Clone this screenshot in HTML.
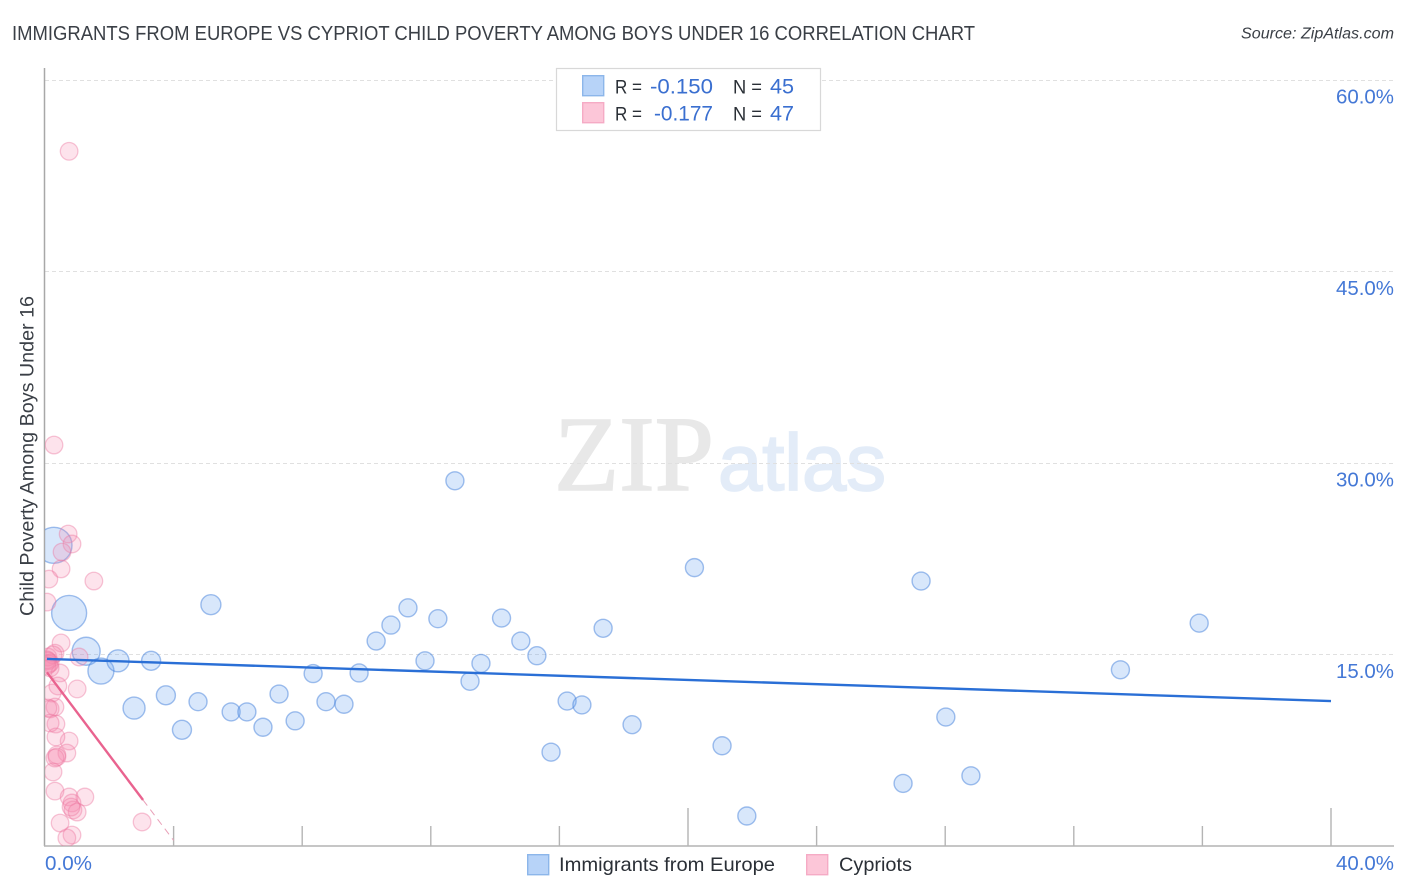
<!DOCTYPE html>
<html lang="en">
<head>
<meta charset="utf-8">
<title>Immigrants from Europe vs Cypriot Child Poverty Chart</title>
<style>
html,body{margin:0;padding:0;background:#fff;width:1406px;height:892px;overflow:hidden}
svg{display:block}
text{font-family:"Liberation Sans",sans-serif}
</style>
</head>
<body>
<svg id="chart" xmlns="http://www.w3.org/2000/svg" width="1406" height="892" viewBox="0 0 1406 892">
  <defs>
    <clipPath id="plot-clip"><rect x="45" y="60" width="1349" height="786"/></clipPath>
  </defs>
  <rect x="0" y="0" width="1406" height="892" fill="#ffffff"/>
  <text x="12" y="40" font-size="20" fill="#3a3f46" textLength="963" lengthAdjust="spacingAndGlyphs">IMMIGRANTS FROM EUROPE VS CYPRIOT CHILD POVERTY AMONG BOYS UNDER 16 CORRELATION CHART</text>
  <text x="1241" y="38.500" font-size="15.500" font-style="italic" fill="#3a3f46" textLength="153" lengthAdjust="spacingAndGlyphs">Source: ZipAtlas.com</text>

  <g>
    <text x="554" y="490" font-size="107" fill="#e8e8e8" stroke="#e8e8e8" stroke-width="1.500" textLength="160" lengthAdjust="spacingAndGlyphs" style="font-family:'Liberation Serif',serif">ZIP</text>
    <text x="718" y="490" font-size="80" fill="#e3ecf8" stroke="#e3ecf8" stroke-width="1.800" textLength="168" lengthAdjust="spacingAndGlyphs">atlas</text>
  </g>

  <g id="grid"></g>
  <g id="axes">
    <line x1="44.500" y1="68" x2="44.500" y2="846" stroke="#a8a8a8" stroke-width="1.500"/>
    <line x1="44" y1="846" x2="1394" y2="846" stroke="#b4b4b4" stroke-width="1.500"/>
  </g>
  <g id="x-ticks"></g>
  <g id="y-labels"></g>
  <g clip-path="url(#plot-clip)">
    <g id="blue-points"></g>
    <g id="pink-points"></g>
    <g id="trends"></g>
  </g>

  <text transform="translate(33.500,456) rotate(-90)" text-anchor="middle" font-size="19" fill="#3a3f46" textLength="320" lengthAdjust="spacingAndGlyphs">Child Poverty Among Boys Under 16</text>
  <text x="45" y="870" font-size="20" fill="#4478d6" textLength="47" lengthAdjust="spacingAndGlyphs">0.0%</text>
  <text x="1336" y="870" font-size="20" fill="#4478d6" textLength="58" lengthAdjust="spacingAndGlyphs">40.0%</text>

  <g>
    <rect x="556.500" y="68.500" width="264" height="62" fill="#ffffff" stroke="#d8d8d8" stroke-width="1.200"/>
    <rect x="582.700" y="75.700" width="21" height="20" fill="#b7d3f8" stroke="#8cb6ea" stroke-width="1.400"/>
    <rect x="582.700" y="102.700" width="21" height="20" fill="#fcc6d8" stroke="#f5abc5" stroke-width="1.400"/>
    <text x="615" y="93.500" font-size="19" fill="#2a2f36" textLength="27" lengthAdjust="spacingAndGlyphs">R =</text>
    <text x="650" y="93.500" font-size="21" fill="#3a6fd0" textLength="63" lengthAdjust="spacingAndGlyphs">-0.150</text>
    <text x="733" y="93.500" font-size="19" fill="#2a2f36" textLength="29" lengthAdjust="spacingAndGlyphs">N =</text>
    <text x="770" y="93.500" font-size="21" fill="#3a6fd0" textLength="24" lengthAdjust="spacingAndGlyphs">45</text>
    <text x="615" y="120.500" font-size="19" fill="#2a2f36" textLength="27" lengthAdjust="spacingAndGlyphs">R =</text>
    <text x="654" y="120.500" font-size="21" fill="#3a6fd0" textLength="59" lengthAdjust="spacingAndGlyphs">-0.177</text>
    <text x="733" y="120.500" font-size="19" fill="#2a2f36" textLength="29" lengthAdjust="spacingAndGlyphs">N =</text>
    <text x="770" y="120.500" font-size="21" fill="#3a6fd0" textLength="24" lengthAdjust="spacingAndGlyphs">47</text>
  </g>

  <g>
    <rect x="527.700" y="854.700" width="21" height="20" fill="#b7d3f8" stroke="#8cb6ea" stroke-width="1.400"/>
    <text x="559" y="871" font-size="19.500" fill="#2a2f36" textLength="216" lengthAdjust="spacingAndGlyphs">Immigrants from Europe</text>
    <rect x="806.700" y="854.700" width="21" height="20" fill="#fcc6d8" stroke="#f5abc5" stroke-width="1.400"/>
    <text x="839" y="871" font-size="19.500" fill="#2a2f36" textLength="73" lengthAdjust="spacingAndGlyphs">Cypriots</text>
  </g>
</svg>
<script>
const yTickValues = [15, 30, 45, 60];
const yTickLabels = ['15.0%', '30.0%', '45.0%', '60.0%'];
const xTickValues = [4, 8, 12, 16, 20, 24, 28, 32, 36, 40];
const xMajorTicks = [20, 40];

const blueX = [12.75, 20.2, 27.25, 35.9, 33.45, 0.28, 0.75, 1.28, 1.74, 2.27, 3.3, 2.77, 3.76, 4.76, 4.26, 5.16, 5.79, 6.28, 6.78, 7.28, 7.78, 8.34, 8.74, 9.3, 9.77, 10.3, 10.76, 11.29, 11.82, 12.22, 13.22, 13.56, 14.2, 14.8, 15.3, 15.74, 16.24, 16.7, 17.36, 18.26, 21.06, 21.83, 26.69, 28.02, 28.8];
const blueY = [28.6, 21.8, 20.75, 17.45, 13.8, 23.55, 18.25, 15.25, 13.7, 14.5, 14.5, 10.8, 11.8, 11.3, 9.1, 18.9, 10.5, 10.5, 9.3, 11.9, 9.8, 13.5, 11.3, 11.1, 13.55, 16.05, 17.3, 18.65, 14.5, 17.8, 12.9, 14.3, 17.85, 16.05, 14.9, 7.35, 11.35, 11.05, 17.05, 9.5, 7.85, 2.35, 4.9, 10.1, 5.5];
const blueSize = [9, 9, 9, 9, 9, 18, 17.5, 14, 13, 11, 9.5, 11, 9.5, 9, 9.5, 10, 9, 9, 9, 9, 9, 9, 9, 9, 9, 9, 9, 9, 9, 9, 9, 9, 9, 9, 9, 9, 9, 9, 9, 9, 9, 9, 9, 9, 9];

const pinkX = [0.75, 0.28, 0.72, 0.84, 0.5, 0.53, 1.52, 0.12, 0.06, 0.5, 0.31, 0.09, 1.06, 0.25, 0.09, 0.16, 0.12, 0.47, 1.0, 0.4, 0.22, 0.31, 0.16, 0.09, 0.34, 0.16, 0.75, 0.34, 0.68, 0.37, 0.31, 0.37, 0.25, 0.31, 0.75, 1.24, 0.84, 0.87, 1.0, 0.81, 0.47, 3.02, 0.84, 0.68, 0.06, 0.06, 0.16];
const pinkY = [54.4, 31.4, 24.43, 23.65, 21.7, 23.02, 20.75, 20.9, 19.1, 15.9, 15.1, 14.8, 14.8, 14.96, 14.49, 14.33, 14.25, 13.55, 12.3, 12.53, 11.98, 10.88, 10.73, 10.8, 9.55, 9.63, 8.22, 8.54, 7.28, 7.13, 6.89, 6.97, 5.8, 4.3, 3.84, 3.84, 3.37, 2.82, 2.66, 3.05, 1.8, 1.88, 0.86, 0.63, 14.1, 14.57, 13.94];
const pinkSize = 8.8;

const blueTrendX = [0.06, 40];
const blueTrendY = [14.65, 11.35];
const pinkTrendX = [0.06, 3.05];
const pinkTrendY = [13.6, 3.6];
const pinkDashX = [3.05, 4];
const pinkDashY = [3.6, 0.44];

const NS = 'http://www.w3.org/2000/svg';
function xPos(v) { return 45 + v * 32.15; }
function yPos(v) { return 846 - v * 12.77; }
function make(tag, parentId, attrs) {
  const el = document.createElementNS(NS, tag);
  for (const k in attrs) el.setAttribute(k, attrs[k]);
  document.getElementById(parentId).appendChild(el);
  return el;
}

yTickValues.forEach(function (v, i) {
  const y = Math.round(yPos(v)) + 0.5;
  const line = make('line', 'grid', { x1: 45, y1: y, x2: 1394, y2: y, stroke: '#e0e0e0', 'stroke-width': 1, 'stroke-dasharray': '4 3' });
  
  
  const label = make('text', 'y-labels', { x: 1394, y: yPos(v) + 23.5, 'text-anchor': 'end', 'font-size': 20, fill: '#4478d6', textLength: 58, lengthAdjust: 'spacingAndGlyphs' });
  label.textContent = yTickLabels[i];
  
  
});

xTickValues.forEach(function (v) {
  const x = xPos(v);
  const top = xMajorTicks.indexOf(v) >= 0 ? 808 : 826;
  const tick = make('line', 'x-ticks', { x1: x, y1: top, x2: x, y2: 846, stroke: '#b4b4b4', 'stroke-width': 1.4 });
  
  
});

blueX.forEach(function (v, i) {
  const c = make('circle', 'blue-points', { cx: xPos(v), cy: yPos(blueY[i]), r: blueSize[i], fill: 'rgba(110,165,240,0.27)', stroke: 'rgba(70,130,220,0.5)', 'stroke-width': 1.4 });
  
  
});

pinkX.forEach(function (v, i) {
  const c = make('circle', 'pink-points', { cx: xPos(v), cy: yPos(pinkY[i]), r: pinkSize, fill: 'rgba(245,140,175,0.24)', stroke: 'rgba(235,120,160,0.42)', 'stroke-width': 1.3 });
  
  
});

const blueLine = make('line', 'trends', { x1: xPos(blueTrendX[0]), y1: yPos(blueTrendY[0]), x2: xPos(blueTrendX[1]), y2: yPos(blueTrendY[1]), stroke: '#2a6fd6', 'stroke-width': 2.4 });



const pinkLine = make('line', 'trends', { x1: xPos(pinkTrendX[0]), y1: yPos(pinkTrendY[0]), x2: xPos(pinkTrendX[1]), y2: yPos(pinkTrendY[1]), stroke: '#e9638f', 'stroke-width': 2.4 });



const pinkDash = make('line', 'trends', { x1: xPos(pinkDashX[0]), y1: yPos(pinkDashY[0]), x2: xPos(pinkDashX[1]), y2: yPos(pinkDashY[1]), stroke: '#e9a0b8', 'stroke-width': 1, 'stroke-dasharray': '7 5' });


</script>
</body>
</html>
